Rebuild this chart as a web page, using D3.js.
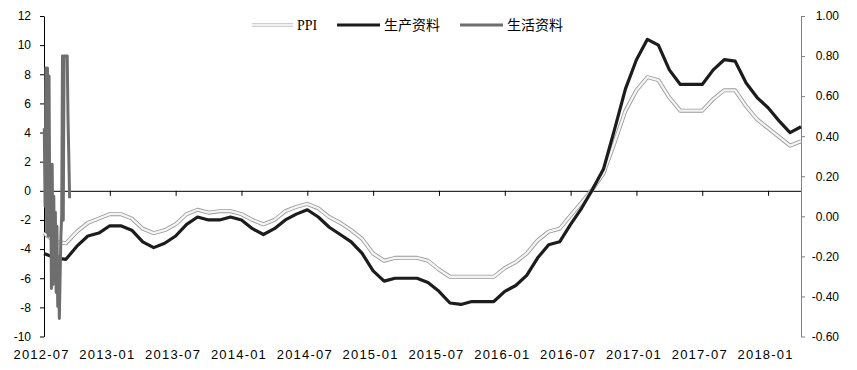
<!DOCTYPE html>
<html>
<head>
<meta charset="utf-8">
<script src="https://cdn.jsdelivr.net/npm/d3@7"></script>
<style>
  body { margin: 0; background: #fff; }
  .axis text { font-family: "Liberation Sans", Arial, sans-serif; font-size: 12px; fill: #000; }
</style>
</head>
<body>
<script>
// months 2012-07 .. 2018-04
var months = [
  "2012-07","2012-08","2012-09","2012-10","2012-11","2012-12",
  "2013-01","2013-02","2013-03","2013-04","2013-05","2013-06","2013-07","2013-08","2013-09","2013-10","2013-11","2013-12",
  "2014-01","2014-02","2014-03","2014-04","2014-05","2014-06","2014-07","2014-08","2014-09","2014-10","2014-11","2014-12",
  "2015-01","2015-02","2015-03","2015-04","2015-05","2015-06","2015-07","2015-08","2015-09","2015-10","2015-11","2015-12",
  "2016-01","2016-02","2016-03","2016-04","2016-05","2016-06","2016-07","2016-08","2016-09","2016-10","2016-11","2016-12",
  "2017-01","2017-02","2017-03","2017-04","2017-05","2017-06","2017-07","2017-08","2017-09","2017-10","2017-11","2017-12",
  "2018-01","2018-02","2018-03","2018-04"
];

var ppi = [
  -2.9,-3.5,-3.6,-2.8,-2.2,-1.9,
  -1.6,-1.6,-1.9,-2.6,-2.9,-2.7,-2.3,-1.6,-1.3,-1.5,-1.4,-1.4,
  -1.6,-2.0,-2.3,-2.0,-1.4,-1.1,-0.9,-1.2,-1.8,-2.2,-2.7,-3.3,
  -4.3,-4.8,-4.6,-4.6,-4.6,-4.8,-5.4,-5.9,-5.9,-5.9,-5.9,-5.9,
  -5.3,-4.9,-4.3,-3.4,-2.8,-2.6,-1.7,-0.8,0.1,1.2,3.3,5.5,
  6.9,7.8,7.6,6.4,5.5,5.5,5.5,6.3,6.9,6.9,5.8,4.9,
  4.3,3.7,3.1,3.4
];

var producer = [
  -4.3,-4.6,-4.7,-3.8,-3.1,-2.9,
  -2.4,-2.4,-2.7,-3.5,-3.9,-3.6,-3.1,-2.3,-1.8,-2.0,-2.0,-1.8,
  -2.0,-2.6,-3.0,-2.6,-2.0,-1.6,-1.3,-1.8,-2.5,-3.0,-3.5,-4.3,
  -5.5,-6.2,-6.0,-6.0,-6.0,-6.3,-6.9,-7.7,-7.8,-7.6,-7.6,-7.6,
  -6.9,-6.5,-5.8,-4.6,-3.7,-3.5,-2.3,-1.2,0.1,1.5,4.2,7.0,
  9.0,10.4,10.0,8.3,7.3,7.3,7.3,8.3,9.0,8.9,7.4,6.4,
  5.7,4.8,4.0,4.4
];

// 生活资料 (right axis) - squeezed at the left edge in the original
var consumer = [
  0.44,0.05,0.74,-0.08,0.74,-0.10,0.70,-0.05,0.26,-0.36,0.26,
  -0.34,0.10,-0.28,0.02,-0.38,-0.05,-0.45,-0.20,-0.51,-0.30,-0.10,
  0.0,0.80,-0.02,0.80,0.80,0.80,0.80,0.80,0.49,0.30,0.09
];

var leftTicks = [-10,-8,-6,-4,-2,0,2,4,6,8,10,12];
var rightTicks = [-0.6,-0.4,-0.2,0,0.2,0.4,0.6,0.8,1.0];
var xLabels = ["2012-07","2013-01","2013-07","2014-01","2014-07","2015-01",
               "2015-07","2016-01","2016-07","2017-01","2017-07","2018-01"];

var W = 857, H = 370;
var svg = d3.select("body").append("svg")
    .attr("width", W)
    .attr("height", H);

var x = d3.scalePoint().domain(months).range([44, 801]);
var yL = d3.scaleLinear().domain([-10, 12]).range([336.5, 16]);
var yR = d3.scaleLinear().domain([-0.6, 1.0]).range([336.5, 16]);
var xC = d3.scaleLinear().domain([0, consumer.length - 1]).range([44.3, 69.6]);

// left axis
svg.append("g")
    .attr("class", "axis")
    .attr("transform", "translate(44,0)")
    .call(d3.axisLeft(yL).tickValues(leftTicks).tickSize(4).tickSizeOuter(0)
      .tickPadding(9).tickFormat(d => String(d)))
    .call(g => g.selectAll("line,path").attr("stroke", "#000"));

// right axis
svg.append("g")
    .attr("class", "axis")
    .attr("transform", "translate(801,0)")
    .call(d3.axisRight(yR).tickValues(rightTicks).tickSize(4).tickSizeOuter(0)
      .tickFormat(d => d.toFixed(2)))
    .call(g => g.selectAll("line,path").attr("stroke", "#808080"))
    .call(g => g.selectAll("text").attr("text-anchor", "end").attr("x", 38));

// x axis on the zero line, labels at the bottom
svg.append("g")
    .attr("class", "axis")
    .attr("transform", "translate(0," + yL(0) + ")")
    .call(d3.axisBottom(x).tickValues(xLabels).tickSize(5).tickSizeOuter(0))
    .call(g => g.select(".domain").attr("stroke", "#000").attr("d", "M44,0.5H801"))
    .call(g => g.selectAll("line").attr("stroke", "#000"))
    .call(g => g.selectAll("text")
        .attr("y", 159)
        .attr("dx", -3)
        .style("font-size", "13px")
        .style("letter-spacing", "1.2px"));

var line = d3.line().x((d, i) => x(months[i])).y(d => yL(d));

// PPI: double line (grey outline, light centre)
svg.append("path")
    .datum(ppi)
    .attr("d", line)
    .attr("fill", "none")
    .attr("stroke", "#9a9a9a")
    .attr("stroke-width", 4)
    .attr("stroke-linejoin", "round");
svg.append("path")
    .datum(ppi)
    .attr("d", line)
    .attr("fill", "none")
    .attr("stroke", "#f4f4f4")
    .attr("stroke-width", 2.3)
    .attr("stroke-linejoin", "round");

// 生产资料
svg.append("path")
    .datum(producer)
    .attr("d", line)
    .attr("fill", "none")
    .attr("stroke", "#1c1c1c")
    .attr("stroke-width", 3.2)
    .attr("stroke-linejoin", "round");

// 生活资料
svg.append("path")
    .datum(consumer)
    .attr("d", d3.line().x((d, i) => xC(i)).y(d => yR(d)))
    .attr("fill", "none")
    .attr("stroke", "#6e6e6e")
    .attr("stroke-width", 3)
    .attr("stroke-linejoin", "round");

// legend
var legend = [
  {name: "PPI", x: 252, font: "'Liberation Serif', serif"},
  {name: "生产资料", x: 337, font: "'Noto Sans CJK SC', sans-serif"},
  {name: "生活资料", x: 460, font: "'Noto Sans CJK SC', sans-serif"}
];
var lg = svg.append("g");
legend.forEach(function (d, i) {
  if (i == 0) {
    lg.append("line").attr("x1", d.x).attr("x2", d.x + 41).attr("y1", 25).attr("y2", 25)
      .attr("stroke", "#c4c4c4").attr("stroke-width", 4);
    lg.append("line").attr("x1", d.x).attr("x2", d.x + 41).attr("y1", 25).attr("y2", 25)
      .attr("stroke", "#f0f0f0").attr("stroke-width", 2.4);
  } else {
    lg.append("line").attr("x1", d.x).attr("x2", d.x + 43).attr("y1", 25).attr("y2", 25)
      .attr("stroke", i == 1 ? "#1c1c1c" : "#6e6e6e").attr("stroke-width", 3);
  }
  lg.append("text")
    .attr("x", d.x + (i == 0 ? 45 : 47))
    .attr("y", 30)
    .style("font-family", d.font)
    .style("font-size", "14px")
    .text(d.name);
});
</script>
</body>
</html>
